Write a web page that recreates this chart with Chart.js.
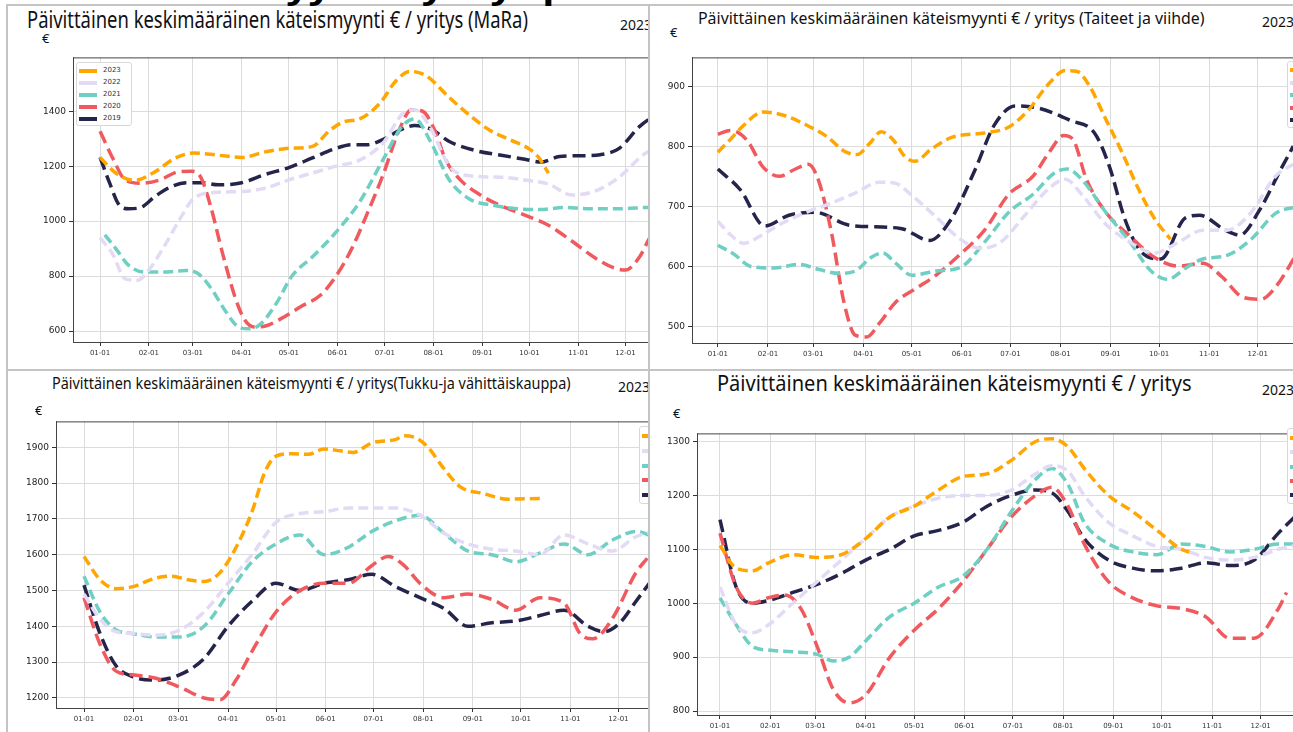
<!DOCTYPE html>
<html>
<head>
<meta charset="utf-8">
<script src="https://cdn.jsdelivr.net/npm/chart.js"></script>
<style>
  body { margin:0; background:#fff; width:1293px; height:732px; overflow:hidden; position:relative; font-family:"Noto Sans",sans-serif; }
  .panel { position:absolute; overflow:hidden; background:#fff; }
  .panel canvas { position:absolute; }
  .t { position:absolute; white-space:nowrap; color:#111; line-height:1; transform-origin:0 0; }
  .sep { position:absolute; background:#c4c4c4; }
  .legend { position:absolute; background:#fff; border:1px solid #d8d8d8; border-radius:3px; font:7px "DejaVu Sans",sans-serif; color:#333; }
  .legend div { position:absolute; left:0; white-space:nowrap; }
  .legend span { position:absolute; height:4px; width:18px; }
  .head { position:absolute; left:248px; top:-27px; line-height:1; font:bold 30px/1 "Noto Sans",sans-serif; color:#000; white-space:nowrap; transform-origin:0 0; z-index:5; }
</style>
</head>
<body>

<div class="panel" id="p1" style="left:8px;top:6px;width:641px;height:364px">
  <div class="t" data-w="501" style="left:19px;top:1px;font-size:24px">Päivittäinen keskimääräinen käteismyynti € / yritys (MaRa)</div>
  <div class="t" style="left:34px;top:26px;font-size:13px">€</div>
  <div class="t" style="left:612px;top:12px;font-size:14px">2023</div>
</div>
<div class="panel" id="p2" style="left:651px;top:6px;width:642px;height:364px">
  <div class="t" data-w="507" style="left:47px;top:3px;font-size:17px">Päivittäinen keskimääräinen käteismyynti € / yritys (Taiteet ja viihde)</div>
  <div class="t" style="left:19px;top:20px;font-size:13px">€</div>
  <div class="t" style="left:611px;top:9px;font-size:14px">2023</div>
</div>
<div class="panel" id="p3" style="left:8px;top:372px;width:641px;height:360px">
  <div class="t" data-w="519" style="left:44px;top:3px;font-size:16px">Päivittäinen keskimääräinen käteismyynti € / yritys(Tukku-ja vähittäiskauppa)</div>
  <div class="t" style="left:27px;top:32px;font-size:13px">€</div>
  <div class="t" style="left:610px;top:8px;font-size:14px">2023</div>
</div>
<div class="panel" id="p4" style="left:651px;top:372px;width:642px;height:360px">
  <div class="t" data-w="475" style="left:66px;top:1px;font-size:21px">Päivittäinen keskimääräinen käteismyynti € / yritys</div>
  <div class="t" style="left:22px;top:35px;font-size:13px">€</div>
  <div class="t" style="left:611px;top:11px;font-size:14px">2023</div>
</div>

<div class="sep" style="left:6px;top:5px;width:2px;height:727px"></div>
<div class="sep" style="left:6px;top:4px;width:1287px;height:2px"></div>
<div class="sep" style="left:648px;top:5px;width:2px;height:727px"></div>
<div class="sep" style="left:6px;top:369px;width:1287px;height:2px"></div>

<div class="head" id="head" data-w="320">myynti / yritys p</div>

<script>
// month ticks (day of year) and labels
const monthTicks = [0, 31, 59, 90, 120, 151, 181, 212, 243, 273, 304, 334];
const monthLabels = ['01-01', '02-01', '03-01', '04-01', '05-01', '06-01', '07-01', '08-01', '09-01', '10-01', '11-01', '12-01'];
const years = ['2023', '2022', '2021', '2020', '2019'];

// y tick labels per panel
const maraTicks = [600, 800, 1000, 1200, 1400];
const taiTicks = [500, 600, 700, 800, 900];
const tukTicks = [1200, 1300, 1400, 1500, 1600, 1700, 1800, 1900];
const allTicks = [800, 900, 1000, 1100, 1200, 1300];

// MaRa  [day, €]
const mara2023 = [[0,1232],[10,1175],[22,1148],[35,1180],[48,1230],[60,1248],[75,1240],[90,1232],[105,1252],[120,1265],[135,1272],[146,1330],[155,1362],[165,1372],[178,1430],[188,1510],[197,1545],[207,1530],[222,1450],[235,1385],[248,1330],[261,1295],[273,1262],[279,1230],[285,1175]];
const mara2022 = [[0,940],[8,880],[16,790],[24,785],[32,830],[42,920],[52,1020],[60,1085],[75,1105],[90,1108],[105,1120],[120,1150],[135,1175],[150,1200],[165,1222],[180,1285],[193,1395],[200,1405],[210,1340],[222,1200],[235,1165],[255,1160],[270,1150],[285,1135],[300,1095],[315,1110],[330,1160],[345,1240],[360,1290]];
const mara2021 = [[3,950],[10,900],[18,840],[28,815],[40,815],[55,820],[62,810],[70,760],[80,670],[88,615],[95,608],[102,625],[112,700],[122,800],[135,870],[150,960],[165,1070],[180,1225],[192,1345],[200,1372],[210,1290],[222,1150],[235,1080],[250,1058],[265,1045],[280,1042],[295,1050],[310,1045],[330,1045],[350,1050],[365,1050]];
const mara2020 = [[0,1327],[8,1230],[16,1150],[26,1138],[38,1150],[50,1180],[58,1182],[64,1160],[70,1060],[78,880],[86,720],[92,640],[98,615],[105,618],[115,645],[128,690],[140,730],[150,800],[160,900],[170,1030],[180,1170],[190,1330],[198,1405],[205,1400],[212,1340],[220,1220],[229,1150],[242,1094],[254,1058],[270,1022],[285,985],[299,931],[315,865],[327,829],[334,822],[343,870],[350,945],[360,1010]];
const mara2019 = [[0,1232],[6,1140],[12,1060],[18,1045],[26,1050],[35,1090],[45,1125],[55,1140],[65,1140],[75,1132],[90,1140],[105,1170],[120,1195],[135,1230],[150,1265],[160,1278],[170,1278],[180,1298],[192,1335],[200,1348],[210,1336],[222,1290],[240,1255],[255,1240],[270,1225],[280,1215],[292,1235],[305,1238],[318,1242],[330,1265],[343,1345],[355,1395]];

// Taiteet ja viihde
const tai2023 = [[0,790],[8,812],[16,835],[28,857],[40,852],[55,835],[68,815],[78,792],[86,786],[94,805],[101,824],[108,812],[116,782],[122,775],[132,795],[145,815],[165,822],[180,832],[192,860],[205,905],[215,926],[222,925],[230,900],[240,845],[250,790],[260,730],[270,680],[280,645]];
const tai2022 = [[0,675],[8,652],[16,638],[26,650],[40,672],[55,690],[70,705],[85,722],[100,740],[110,738],[120,718],[135,682],[150,645],[162,630],[175,640],[190,685],[205,730],[215,745],[225,720],[240,670],[255,640],[270,622],[285,640],[300,660],[315,660],[330,690],[345,750],[360,775]];
const tai2021 = [[0,635],[10,620],[20,600],[35,597],[50,603],[62,595],[75,588],[85,592],[95,615],[102,622],[110,605],[120,585],[135,592],[150,598],[165,640],[180,690],[195,720],[208,755],[216,762],[225,745],[240,690],[255,640],[268,592],[278,578],[290,598],[300,612],[315,618],[330,645],[345,688],[360,700]];
const tai2020 = [[0,820],[8,826],[18,810],[28,765],[38,750],[48,762],[56,770],[62,745],[70,660],[78,540],[85,485],[92,482],[100,505],[110,540],[122,562],[135,585],[150,620],[165,660],[180,720],[195,750],[205,790],[214,818],[220,810],[228,745],[240,690],[255,650],[270,615],[285,600],[300,605],[312,582],[325,548],[336,545],[345,565],[358,620]];
const tai2019 = [[0,762],[14,727],[29,667],[44,685],[60,690],[82,668],[113,663],[131,643],[144,677],[159,760],[171,835],[184,867],[199,863],[218,843],[233,822],[242,768],[252,677],[261,627],[274,612],[289,680],[298,685],[314,660],[323,652],[335,693],[348,760],[356,800]];

// Tukku- ja vähittäiskauppa
const tuk2023 = [[0,1595],[10,1530],[20,1505],[30,1510],[45,1535],[55,1540],[65,1530],[75,1525],[85,1550],[95,1620],[105,1720],[113,1830],[120,1875],[130,1882],[140,1880],[150,1895],[160,1890],[168,1885],[180,1912],[195,1922],[200,1932],[208,1925],[215,1900],[225,1840],[235,1790],[250,1770],[265,1755],[285,1757]];
const tuk2022 = [[0,1490],[10,1420],[20,1385],[30,1380],[45,1375],[60,1390],[75,1440],[90,1520],[105,1600],[120,1690],[135,1715],[150,1720],[165,1730],[180,1730],[195,1730],[210,1710],[225,1660],[240,1630],[255,1615],[270,1610],[285,1600],[300,1655],[315,1630],[330,1610],[345,1650],[360,1670]];
const tuk2021 = [[0,1540],[10,1440],[20,1390],[30,1380],[45,1370],[60,1370],[75,1400],[90,1490],[105,1580],[120,1630],[135,1655],[150,1600],[165,1620],[180,1665],[195,1695],[210,1710],[225,1660],[240,1610],[255,1600],[270,1580],[285,1605],[300,1630],[315,1600],[330,1640],[345,1665],[360,1640]];
const tuk2020 = [[0,1480],[10,1350],[20,1275],[30,1265],[45,1255],[60,1230],[75,1200],[85,1195],[95,1250],[105,1330],[120,1440],[135,1500],[150,1520],[165,1520],[180,1570],[190,1595],[200,1570],[210,1520],[225,1480],[240,1490],[255,1475],[270,1445],[285,1480],[300,1465],[310,1380],[318,1365],[330,1420],[345,1550],[352,1590]];
const tuk2019 = [[0,1515],[10,1380],[20,1290],[30,1260],[45,1250],[60,1265],[75,1310],[90,1400],[105,1470],[120,1520],[135,1500],[150,1520],[165,1530],[180,1545],[195,1510],[210,1480],[225,1450],[240,1400],[255,1410],[270,1415],[285,1430],[300,1445],[315,1400],[325,1385],[335,1410],[345,1470],[355,1530]];

// Kaikki toimialat
const all2023 = [[0,1107],[10,1065],[20,1060],[30,1075],[45,1090],[60,1085],[75,1090],[90,1120],[105,1160],[120,1180],[135,1210],[150,1235],[165,1240],[180,1265],[195,1300],[205,1305],[215,1290],[225,1250],[240,1200],[255,1170],[270,1135],[285,1100],[290,1095]];
const all2022 = [[0,1030],[10,960],[20,945],[30,960],[45,1000],[60,1040],[75,1080],[90,1120],[105,1160],[120,1180],[135,1195],[150,1200],[165,1200],[180,1210],[195,1240],[205,1255],[215,1245],[225,1200],[240,1150],[255,1125],[270,1105],[285,1100],[300,1085],[315,1080],[330,1085],[345,1100],[360,1110]];
const all2021 = [[0,1010],[10,960],[20,920],[30,913],[45,910],[60,905],[70,893],[80,900],[90,930],[105,975],[120,1000],[135,1030],[150,1050],[165,1100],[180,1170],[195,1230],[205,1250],[215,1220],[225,1150],[240,1110],[255,1095],[270,1090],[285,1110],[300,1105],[315,1095],[330,1100],[345,1110],[360,1110]];
const all2020 = [[0,1130],[10,1030],[20,1000],[30,1010],[40,1015],[50,990],[60,920],[70,840],[80,815],[90,830],[105,900],[120,950],[135,990],[150,1040],[165,1100],[180,1160],[195,1200],[205,1215],[215,1180],[225,1110],[240,1040],[255,1010],[270,995],[285,990],[300,975],[315,935],[330,935],[345,990],[350,1020]];
const all2019 = [[0,1155],[10,1030],[20,1000],[30,1005],[45,1020],[60,1035],[75,1055],[90,1080],[105,1100],[120,1125],[135,1135],[150,1150],[165,1180],[180,1200],[195,1210],[205,1205],[215,1170],[225,1120],[240,1080],[255,1065],[270,1060],[285,1065],[300,1075],[315,1070],[330,1080],[345,1130],[355,1160]];

const colors = ['#ffa600', '#e3daf6', '#6fcfc3', '#f05a5e', '#25254b'];
const dashes = [[10, 5], [10, 5], [10, 5], [13, 6], [13, 6]];

const panels = [
  { id: 'p1', org: [8, 6], area: [73, 57, 690, 342], x: [-17.2, 375], y: [560, 1596], yTicks: maraTicks,
    series: [mara2023, mara2022, mara2021, mara2020, mara2019], legend: [68, 56, 12, 54], labels: true },
  { id: 'p2', org: [651, 6], area: [692, 57, 1324, 343], x: [-16, 375], y: [472, 948], yTicks: taiTicks,
    series: [tai2023, tai2022, tai2021, tai2020, tai2019], legend: [636, 55, 12.5, 54] },
  { id: 'p3', org: [8, 372], area: [56, 421, 684, 708], x: [-17.5, 375], y: [1172, 1972], yTicks: tukTicks,
    series: [tuk2023, tuk2022, tuk2021, tuk2020, tuk2019], legend: [631, 54, 14.7, 54] },
  { id: 'p4', org: [651, 372], area: [697, 433, 1327, 715], x: [-14.2, 375], y: [792.6, 1315], yTicks: allTicks,
    series: [all2023, all2022, all2021, all2020, all2019], legend: [636, 56, 14.3, 54] }
];

// top spine like the matplotlib frame
const topSpine = {
  id: 'topSpine',
  afterDatasetsDraw(chart) {
    const a = chart.chartArea, ctx = chart.ctx;
    ctx.save();
    ctx.strokeStyle = '#444';
    ctx.lineWidth = 1;
    ctx.beginPath();
    ctx.moveTo(a.left, a.top + 0.5);
    ctx.lineTo(a.right, a.top + 0.5);
    ctx.stroke();
    ctx.restore();
  }
};

const YW = 40, XH = 22, PT = 8;

panels.forEach(p => {
  const panel = document.getElementById(p.id);
  const c = document.createElement('canvas');
  const w = p.area[2] - p.area[0] + YW + 4;
  const h = p.area[3] - p.area[1] + PT + XH;
  c.width = w; c.height = h;
  c.style.width = w + 'px'; c.style.height = h + 'px';
  c.style.left = (p.area[0] - YW - p.org[0]) + 'px';
  c.style.top = (p.area[1] - PT - p.org[1]) + 'px';
  panel.insertBefore(c, panel.firstChild);

  new Chart(c, {
    type: 'line',
    data: {
      datasets: p.series.map((s, i) => ({
        label: years[i],
        data: s.map(d => ({ x: d[0], y: d[1] })),
        borderColor: colors[i],
        borderWidth: 3.5,
        borderDash: dashes[i],
        pointRadius: 0,
        fill: false,
        cubicInterpolationMode: 'monotone'
      }))
    },
    options: {
      responsive: false,
      animation: false,
      events: [],
      layout: { padding: { top: PT, right: 4, left: 0, bottom: 0 } },
      plugins: { legend: { display: false }, tooltip: { enabled: false } },
      scales: {
        x: {
          type: 'linear', min: p.x[0], max: p.x[1],
          afterFit(s) { s.height = XH; },
          afterBuildTicks(s) { s.ticks = monthTicks.map(v => ({ value: v })); },
          ticks: { autoSkip: false, maxRotation: 0, padding: 3, color: '#333',
                   font: { size: 7, family: 'DejaVu Sans' },
                   callback: (v, i) => monthLabels[i] },
          grid: { color: '#dcdcdc', tickColor: '#333', tickLength: 4 },
          border: { color: '#444', width: 1 }
        },
        y: {
          min: p.y[0], max: p.y[1],
          afterFit(s) { s.width = YW; },
          afterBuildTicks(s) { s.ticks = p.yTicks.map(v => ({ value: v })); },
          ticks: { padding: 3, color: '#222', font: { size: 9, family: 'DejaVu Sans' },
                   callback: v => String(v) },
          grid: { color: '#dcdcdc', tickColor: '#333', tickLength: 4 },
          border: { color: '#444', width: 1 }
        }
      }
    },
    plugins: [topSpine]
  });

  // legend box
  const lg = document.createElement('div');
  lg.className = 'legend';
  const [lx, ly, rh, lw] = p.legend;
  lg.style.left = lx + 'px';
  lg.style.top = ly + 'px';
  lg.style.width = lw + 'px';
  lg.style.height = (rh * 5 + 2) + 'px';
  years.forEach((yr, i) => {
    const row = document.createElement('div');
    row.style.top = (2 + i * rh) + 'px';
    row.style.height = rh + 'px';
    row.style.width = lw + 'px';
    const sw = document.createElement('span');
    sw.style.left = '2px';
    sw.style.top = (rh / 2 - 2) + 'px';
    sw.style.background = colors[i];
    row.appendChild(sw);
    if (p.labels) {
      const tx = document.createElement('div');
      tx.textContent = yr;
      tx.style.left = '26px';
      tx.style.top = (rh / 2 - 5) + 'px';
      row.appendChild(tx);
    }
    lg.appendChild(row);
  });
  panel.appendChild(lg);
});

// squeeze titles to their measured width
document.querySelectorAll('[data-w]').forEach(el => {
  const target = +el.dataset.w;
  el.style.transform = 'scaleX(' + (target / el.offsetWidth) + ')';
});
</script>
</body>
</html>
